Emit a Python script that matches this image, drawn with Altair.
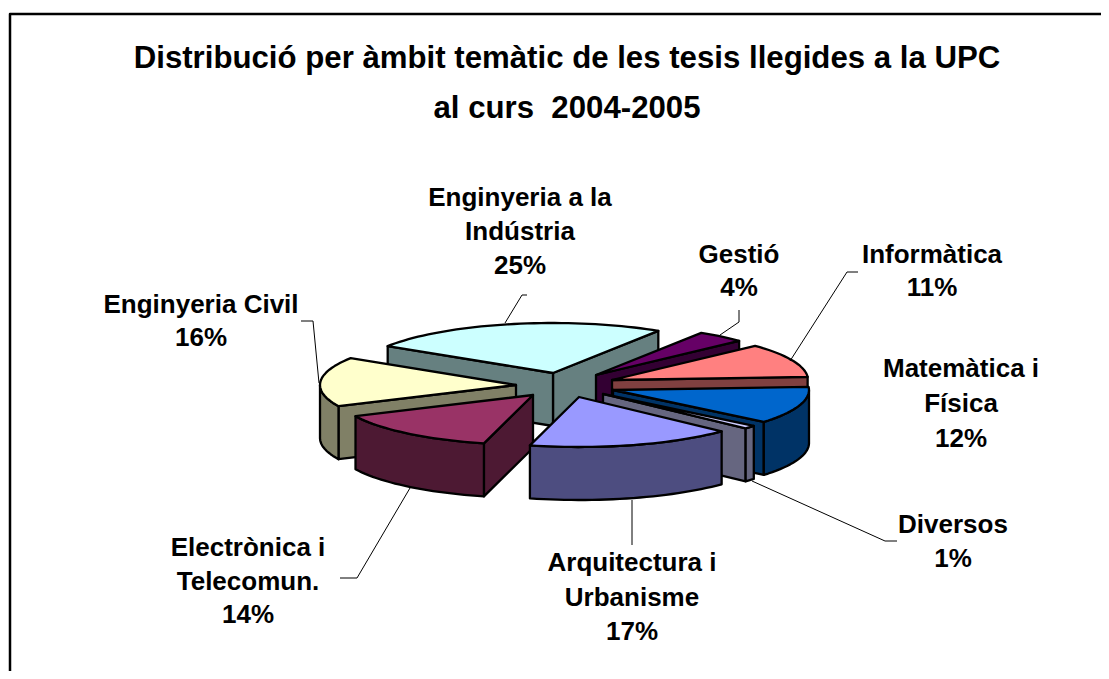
import math
import altair as alt

# ---- data ----
categories = ["Matemàtica i Física", "Diversos", "Arquitectura i Urbanisme",
              "Electrònica i Telecomun.", "Enginyeria Civil",
              "Enginyeria a la Indústria", "Gestió", "Informàtica"]
shares = [12, 1, 17, 14, 16, 25, 4, 11]
top_colours = ["#0066CC", "#CCCCFF", "#9999FF", "#993366", "#FFFFCC", "#CCFFFF", "#660066", "#FF8080"]
wall_colours = ["#003366", "#666680", "#4D4D80", "#4D1933", "#808066", "#668080", "#330033", "#804040"]

title_lines = ["Distribució per àmbit temàtic de les tesis llegides a la UPC", "al curs\u00a0 2004-2005"]
label_lines = {
    "Enginyeria a la Indústria": ["Enginyeria a la", "Indústria", "25%"],
    "Gestió": ["Gestió", "4%"],
    "Informàtica": ["Informàtica", "11%"],
    "Matemàtica i Física": ["Matemàtica i", "Física", "12%"],
    "Enginyeria Civil": ["Enginyeria Civil", "16%"],
    "Electrònica i Telecomun.": ["Electrònica i", "Telecomun.", "14%"],
    "Arquitectura i Urbanisme": ["Arquitectura i", "Urbanisme", "17%"],
    "Diversos": ["Diversos", "1%"],
}

# ---- layout ----
PAGE_W, PAGE_H = 1109, 679
W, H = PAGE_W - 16, PAGE_H - 16
RX, RY, DEPTH, TWIST = 196, 50, 53, 3.5
apex = {
    "Matemàtica i Física": (613, 390),
    "Diversos": (603, 394),
    "Arquitectura i Urbanisme": (579, 397),
    "Electrònica i Telecomun.": (533, 395),
    "Enginyeria Civil": (516, 385),
    "Enginyeria a la Indústria": (553, 373),
    "Gestió": (596, 375),
    "Informàtica": (612, 380),
}
paint_order = ["Enginyeria a la Indústria", "Gestió", "Informàtica", "Enginyeria Civil",
               "Matemàtica i Física", "Diversos", "Electrònica i Telecomun.", "Arquitectura i Urbanisme"]
label_pos = {
    "Enginyeria a la Indústria": (520, 198, 34),
    "Gestió": (739, 255, 33),
    "Informàtica": (932, 255, 33),
    "Matemàtica i Física": (961, 369, 35),
    "Enginyeria Civil": (201, 305, 33),
    "Electrònica i Telecomun.": (248, 548, 33.5),
    "Arquitectura i Urbanisme": (632, 563, 34.5),
    "Diversos": (953, 525, 34),
}
leaders = [
    [(505, 323), (522, 295), (527, 295)],
    [(301, 321), (313, 321), (319, 383)],
    [(720, 335), (739, 322), (739, 310)],
    [(790, 361), (847, 272), (858, 272)],
    [(752, 481), (885, 541), (897, 541)],
    [(632, 500), (632, 545)],
    [(410, 488), (357, 578), (340, 578)],
]
frame = [(PAGE_W, 14), (10, 14), (10, PAGE_H)]


def rim(cx, cy, deg):
    t = math.radians(deg + TWIST)
    return (cx + RX * math.cos(t), cy - RY * math.sin(t))


def drop(pts):
    return [(x, y + DEPTH) for x, y in pts]


def poly(pts, fill):
    ring = [list(p) for p in pts] + [list(pts[0])]
    return {"type": "Feature", "geometry": {"type": "Polygon", "coordinates": [ring]},
            "properties": {"fill": fill, "sw": 2.3}}


def line(pts, sw):
    return {"type": "Feature", "geometry": {"type": "LineString", "coordinates": [list(p) for p in pts]},
            "properties": {"fill": "none", "sw": sw}}


# angles run clockwise from east, as the slices do
spans = {}
angle = 0.0
for name, share in zip(categories, shares):
    spans[name] = (angle, angle - share * 3.6)
    angle -= share * 3.6

features = []
for name in paint_order:
    i = categories.index(name)
    hi, lo = spans[name]
    cx, cy = apex[name]
    top, wall = top_colours[i], wall_colours[i]
    steps = max(2, int((hi - lo) / 2))
    arc_degs = [hi + (lo - hi) * k / steps for k in range(steps + 1)]
    arc = [rim(cx, cy, d) for d in arc_degs]
    # the straight cut faces that look towards the viewer
    if math.cos(math.radians(lo)) > 0:
        e = [(cx, cy), rim(cx, cy, lo)]
        features.append(poly(e + drop(e)[::-1], wall))
    if math.cos(math.radians(hi)) < 0:
        e = [(cx, cy), rim(cx, cy, hi)]
        features.append(poly(e + drop(e)[::-1], wall))
    # the curved outer face, only its front part
    front = [rim(cx, cy, d) for d in arc_degs if math.sin(math.radians(d + TWIST)) < 0]
    if len(front) > 1:
        features.append(poly(front + drop(front)[::-1], wall))
    features.append(poly([(cx, cy)] + arc, top))

for pts in leaders:
    features.append(line(pts, 1))
features.append(line(frame, 2.5))

proj = alt.Projection(type="identity", scale=1, translate=[-8, -8])
shapes = alt.Chart(alt.Data(values=features)).mark_geoshape(strokeJoin="round", stroke="black").encode(
    fill=alt.Fill("properties.fill:N", scale=None),
    strokeWidth=alt.StrokeWidth("properties.sw:Q", scale=None),
).project(**proj.to_dict())

x_scale = alt.Scale(domain=[8, 8 + W], nice=False, zero=False)
y_scale = alt.Scale(domain=[8 + H, 8], nice=False, zero=False)

rows = []
for name in categories:
    x0, y0, step = label_pos[name]
    for k, txt in enumerate(label_lines[name]):
        rows.append({"x": x0, "y": y0 + k * step, "t": txt})
labels = alt.Chart(alt.Data(values=rows)).mark_text(
    font="Liberation Sans", fontWeight="bold", fontSize=26, color="black", align="center", baseline="middle"
).encode(x=alt.X("x:Q", scale=x_scale, axis=None), y=alt.Y("y:Q", scale=y_scale, axis=None), text="t:N")

title_rows = [{"x": 567, "y": 59, "t": title_lines[0]}, {"x": 567, "y": 109, "t": title_lines[1]}]
title = alt.Chart(alt.Data(values=title_rows)).mark_text(
    font="Liberation Sans", fontWeight="bold", fontSize=31.2, color="black", align="center", baseline="middle"
).encode(x=alt.X("x:Q", scale=x_scale, axis=None), y=alt.Y("y:Q", scale=y_scale, axis=None), text="t:N")

chart = alt.layer(shapes, labels, title).properties(width=W, height=H, padding=0, background="white").configure_view(stroke=None)
chart.save("out.html", embed_options={"renderer": "svg", "actions": False})
